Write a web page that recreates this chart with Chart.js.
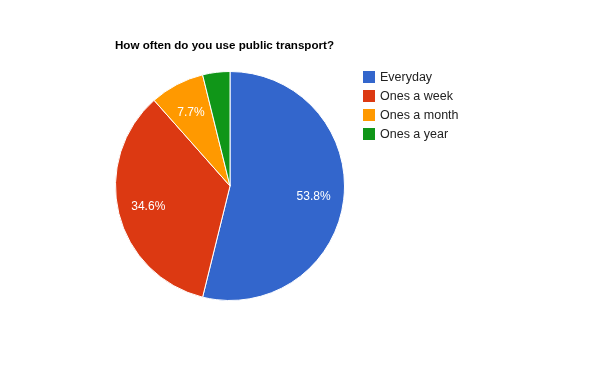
<!DOCTYPE html>
<html>
<head>
<meta charset="utf-8">
<script src="https://cdn.jsdelivr.net/npm/chart.js@4"></script>
<style>
    html, body { margin: 0; padding: 0; background: #fff; }
    #wrap { width: 600px; height: 371px; position: relative; }
</style>
</head>
<body>
<div id="wrap"><canvas id="pieChart" width="600" height="371"></canvas></div>
<script>
// chart data
const chartTitle = 'How often do you use public transport?';
const categories = ['Everyday', 'Ones a week', 'Ones a month', 'Ones a year'];
const answers = [14, 9, 2, 1];
const sliceColors = ['#3366cc', '#dc3912', '#ff9900', '#109618'];

// Title, legend and percent labels drawn Google-chart style
const extras = {
    id: 'extras',
    afterDatasetsDraw(chart) {
        const ctx = chart.ctx;
        const meta = chart.getDatasetMeta(0);
        const total = answers.reduce((a, b) => a + b, 0);

        ctx.save();
        ctx.textBaseline = 'middle';
        ctx.textAlign = 'center';
        ctx.fillStyle = '#ffffff';
        ctx.font = '12px Arial, "Liberation Sans", sans-serif';
        meta.data.forEach((arc, i) => {
            const pct = answers[i] / total * 100;
            if (pct < 5) return;
            const mid = (arc.startAngle + arc.endAngle) / 2;
            const r = arc.outerRadius * 0.735;
            ctx.fillText(pct.toFixed(1) + '%', arc.x + Math.cos(mid) * r, arc.y + Math.sin(mid) * r + 1);
        });

        // title
        ctx.textAlign = 'left';
        ctx.fillStyle = '#000000';
        ctx.font = 'bold 11.6px Arial, "Liberation Sans", sans-serif';
        ctx.fillText(chartTitle, 115, 46);

        // legend
        ctx.font = '12.5px Arial, "Liberation Sans", sans-serif';
        categories.forEach((name, i) => {
            const y = 71 + i * 19;
            ctx.fillStyle = sliceColors[i];
            ctx.fillRect(363, y, 12, 12);
            ctx.fillStyle = '#222222';
            ctx.fillText(name, 380, y + 6.5);
        });
        ctx.restore();
    }
};

const ctx = document.getElementById('pieChart').getContext('2d');
new Chart(ctx, {
    type: 'pie',
    data: {
        labels: categories,
        datasets: [{
            data: answers,
            backgroundColor: sliceColors,
            borderColor: '#ffffff',
            borderWidth: 1
        }]
    },
    options: {
        responsive: false,
        animation: false,
        layout: {
            padding: { left: 115, top: 71, right: 255, bottom: 70 }
        },
        plugins: {
            legend: { display: false },
            title: { display: false },
            tooltip: { enabled: false }
        }
    },
    plugins: [extras]
});
</script>
</body>
</html>
